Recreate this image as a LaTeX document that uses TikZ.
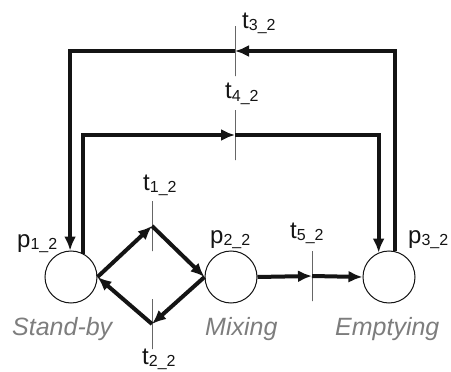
\documentclass[tikz,border=0pt]{standalone}
\usepackage{fontspec}
\setmainfont{Liberation Sans}
\usetikzlibrary{arrows.meta, positioning}
\definecolor{netblack}{RGB}{20, 20, 20}
\definecolor{stategray}{RGB}{125, 125, 125}
\newcommand{\idx}[1]{\raisebox{-2pt}{\fontsize{16}{16}\selectfont #1}}

\begin{document}
\begin{tikzpicture}[x=1pt, y=-1pt,
    place/.style={circle, draw=netblack, line width=1pt, minimum size=52pt, inner sep=0pt},
    trans/.style={draw=netblack, line width=1pt, minimum width=0pt, minimum height=50pt, inner sep=0pt},
    arc/.style={draw=netblack, line width=4pt, -{Latex[length=14pt, width=12pt]}},
    lbl/.style={anchor=base west, inner sep=0pt, text=netblack, font=\fontsize{24}{26}\selectfont},
    statelbl/.style={anchor=base west, inner sep=0pt, text=stategray, font=\fontsize{25}{27}\selectfont\itshape}]
    \useasboundingbox (0,0) rectangle (451,372);

    % places
    \node[place] (p1) at (71,277) {};
    \node[place] (p2) at (231,277) {};
    \node[place] (p3) at (389,277) {};

    % transitions
    \node[trans] (t1) at (152,226) {};
    \node[trans] (t2) at (152,324) {};
    \node[trans] (t3) at (235,51) {};
    \node[trans] (t4) at (235,135) {};
    \node[trans] (t5) at (312,276) {};

    % arcs
    \draw[arc] (p1.east) -- (t1.center);
    \draw[arc] (t1.center) -- (p2.west);
    \draw[arc] (p2.west) -- (t2.center);
    \draw[arc] (t2.center) -- (p1.east);
    \draw[arc] (p2.east) -- (t5.center);
    \draw[arc] (t5.center) -- (p3.west);
    \draw[arc] (p3.77) |- (t3.center);
    \draw[arc] (t3.center) -| (p1.92);
    \draw[arc] (p1.62) |- (t4.center);
    \draw[arc] (t4.center) -| (p3.113);

    % labels
    \node[lbl] (p1lbl) at (17,247) {p\idx{1\_2}};
    \node[lbl] (p2lbl) at (210,243) {p\idx{2\_2}};
    \node[lbl] (p3lbl) at (408,243) {p\idx{3\_2}};
    \node[lbl] (t1lbl) at (143,190) {t\idx{1\_2}};
    \node[lbl] (t2lbl) at (142,364) {t\idx{2\_2}};
    \node[lbl] (t3lbl) at (242,28) {t\idx{3\_2}};
    \node[lbl] (t4lbl) at (225,99) {t\idx{4\_2}};
    \node[lbl] (t5lbl) at (290,238) {t\idx{5\_2}};

    \node[statelbl] (standby) at (12,335) {Stand-by};
    \node[statelbl] (mixing) at (205,335) {Mixing};
    \node[statelbl] (emptying) at (335,335) {Emptying};
\end{tikzpicture}
\end{document}
